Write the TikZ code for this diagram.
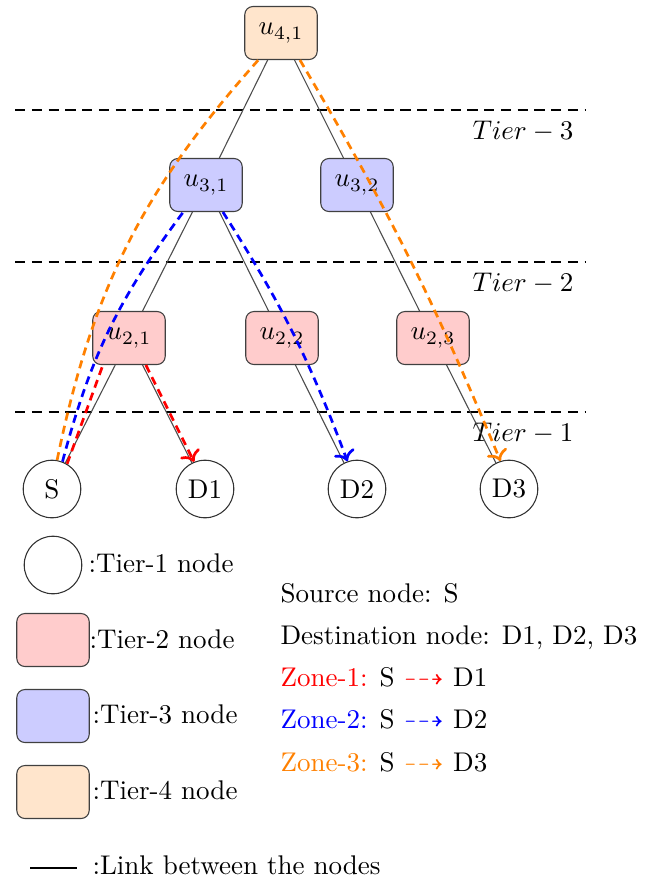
\documentclass[tikz,border=0pt]{standalone}
\usepackage{amsmath}
\usepackage{amssymb}
\usetikzlibrary{arrows.meta,positioning,shapes.geometric}

\begin{document}
\begin{tikzpicture}[
  x=0.37pt, y=-0.37pt,
  tnode/.style={draw=black!75, rounded corners=3pt, minimum width=26.8pt,
                minimum height=19.6pt, inner sep=1pt},
  t1/.style={draw=black!80, circle, minimum size=21.3pt, inner sep=0pt},
  t2/.style={tnode, fill=red!20},
  t3/.style={tnode, fill=blue!20},
  t4/.style={tnode, fill=orange!20},
  link/.style={draw=black!70, line width=0.4pt},
  tier/.style={dash pattern=on 3.8pt off 2.4pt, thick},
  zone/.style={dash pattern=on 3pt off 2pt, line width=1pt},
  lbl/.style={anchor=west, inner sep=0pt, text height=7pt, text depth=2pt}
]
\useasboundingbox (0,0) rectangle (648,881);

% tier separators
\foreach \y/\n in {110/3, 262/2, 412/1} {
  \draw[tier] (15,\y) -- (585,\y);
  \node[anchor=east] at (583,\y+21) {$Tier-\n$};
}

% nodes
\node[t4] (u41) at (281,33) {$u_{4,1}$};
\node[t3] (u31) at (206,185) {$u_{3,1}$};
\node[t3] (u32) at (357,185) {$u_{3,2}$};
\node[t2] (u21) at (129,338) {$u_{2,1}$};
\node[t2] (u22) at (282,338) {$u_{2,2}$};
\node[t2] (u23) at (433,338) {$u_{2,3}$};
\node[t1] (S) at (52,489) {S};
\node[t1] (D1) at (205,489) {D1};
\node[t1] (D2) at (357,489) {D2};
\node[t1] (D3) at (509,489) {D3};

\foreach \x/\y in {u41/u31, u41/u32, u31/u21, u31/u22, u32/u23,
                   u21/S, u21/D1, u22/D2, u23/D3} {
  \draw[link] (\x) -- (\y);
}

% zones
\draw[zone, red] (S.59) -- (u21.226);
\draw[zone, red, ->] (u21.302) -- (D1.112);
\draw[zone, blue] (S.69) to[bend left=11] (u31.230);
\draw[zone, blue, ->] (u31.302) to[bend left=6] (D2.109);
\draw[zone, orange] (S.80) to[bend left=15] (u41.230);
\draw[zone, orange, ->] (u41.305) to[bend left=4] (D3.107);

% legend
\node[t1] (k1) at (53,565) {};
\node[t2] (k2) at (53,640) {};
\node[t3] (k3) at (53,716) {};
\node[t4] (k4) at (53,792) {};
\node[lbl] (k1t) at (88,566) {:Tier-1 node};
\node[lbl] (k2t) at (89,642) {:Tier-2 node};
\node[lbl] (k3t) at (92,717) {:Tier-3 node};
\node[lbl] (k4t) at (92,793) {:Tier-4 node};
\coordinate (l1) at (30,868);
\coordinate (l2) at (77,868);
\draw[thick] (l1) -- (l2);
\node[lbl] (k5t) at (92,868) {:Link between the nodes};

\node[lbl] (src) at (280,596) {Source node: S};
\node[lbl] (dst) at (280,638) {Destination node: D1, D2, D3};
\node[lbl] (z1) at (280,680) {\textcolor{red}{Zone-1:} S \textcolor{red}{$\dashrightarrow$} D1};
\node[lbl] (z2) at (280,722) {\textcolor{blue}{Zone-2:} S \textcolor{blue}{$\dashrightarrow$} D2};
\node[lbl] (z3) at (280,765) {\textcolor{orange}{Zone-3:} S \textcolor{orange}{$\dashrightarrow$} D3};
\end{tikzpicture}
\end{document}
